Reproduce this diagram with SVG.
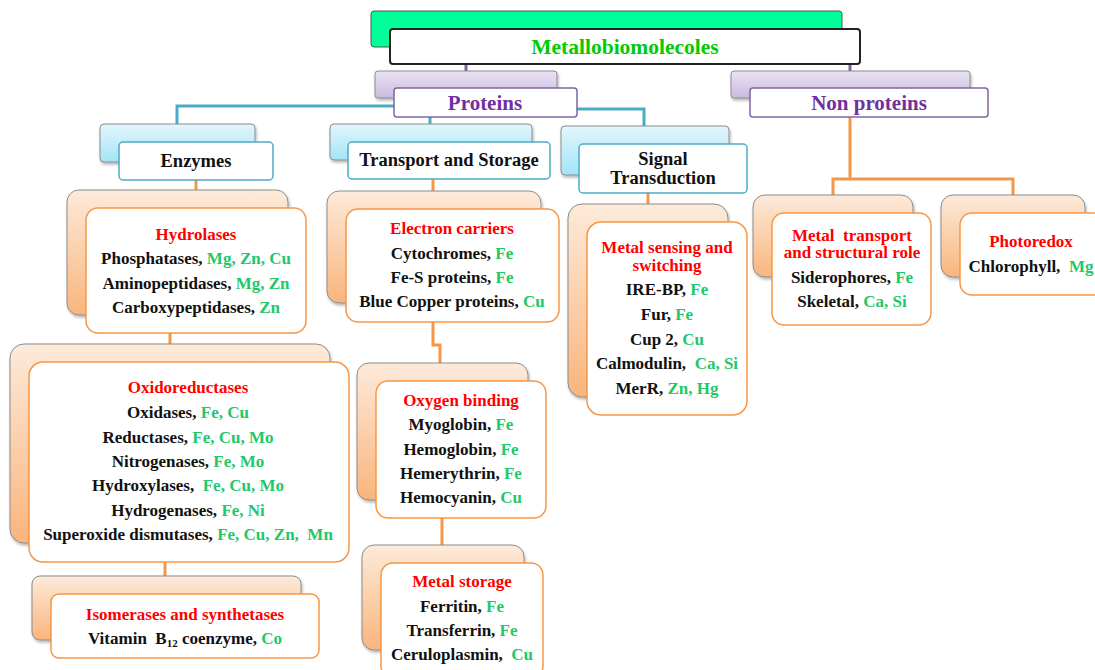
<svg xmlns="http://www.w3.org/2000/svg" width="1095" height="670" viewBox="0 0 1095 670" xml:space="preserve">
<defs>
<linearGradient id="gOr" x1="0" y1="0" x2="0" y2="1"><stop offset="0" stop-color="#fdeada"/><stop offset="1" stop-color="#f9b57c"/></linearGradient>
<linearGradient id="gBl" x1="0" y1="0" x2="0" y2="1"><stop offset="0" stop-color="#e2f6fd"/><stop offset="1" stop-color="#a3e4f7"/></linearGradient>
<linearGradient id="gPu" x1="0" y1="0" x2="0" y2="1"><stop offset="0" stop-color="#ebe4f3"/><stop offset="1" stop-color="#c9b9e0"/></linearGradient>
<filter id="sh" x="-10%" y="-10%" width="130%" height="130%"><feDropShadow dx="1" dy="2" stdDeviation="1.5" flood-color="#000" flood-opacity="0.3"/></filter>
</defs>
<style>
text{font-family:"Liberation Serif","Times New Roman",serif;font-weight:bold;text-anchor:middle;white-space:pre;}
.t{font-size:17px;fill:#111;}
.h{font-size:17px;fill:#ff0000;}
.m{fill:#1fc86a;}
.ob{fill:url(#gOr);stroke:#8c8c8c;stroke-width:1;filter:url(#sh);}
.of{fill:#fff;stroke:#f79646;stroke-width:1.5;}
.bb{fill:url(#gBl);stroke:#8c8c8c;stroke-width:1;filter:url(#sh);}
.bf{fill:#fff;stroke:#4bacc6;stroke-width:1.5;}
.pb{fill:url(#gPu);stroke:#8c8c8c;stroke-width:1;filter:url(#sh);}
.pf{fill:#fff;stroke:#8064a2;stroke-width:1.5;}
.cb{fill:none;stroke:#4bacc6;stroke-width:3;}
.co{fill:none;stroke:#f79646;stroke-width:3;}
.cp{fill:none;stroke:#8064a2;stroke-width:3;}
.l1{font-size:18.5px;fill:#111;}
.p{font-size:21px;fill:#7030a0;}
</style>
<g id="connectors">
<path class="cp" d="M466 64 V72"/>
<path class="cp" d="M850 64 V72"/>
<path class="cb" d="M394 106 H177 V124"/>
<path class="cb" d="M430 117 V124"/>
<path class="cb" d="M577 109 H644 V126"/>
<path class="co" d="M850 117 V179 M833 195 V179 H1013 V195"/>
<path class="co" d="M196 180 V190"/>
<path class="co" d="M170 333 V344"/>
<path class="co" d="M165 562 V576"/>
<path class="co" d="M433 179 V191"/>
<path class="co" d="M433 322 V345 H440 V363"/>
<path class="co" d="M442 518 V545"/>
<path class="co" d="M648 193 V204"/>
</g>
<g id="root">
<rect x="371" y="11" width="471" height="36" rx="3" fill="#00ff99" stroke="#555" stroke-width="1"/>
<rect x="390" y="29" width="470" height="35" rx="3" fill="#fff" stroke="#222" stroke-width="2"/>
<text x="625" y="54" style="font-size:21.5px;fill:#00cc00">Metallobiomolecoles</text>
</g>
<g id="proteins">
<rect class="pb" x="375" y="71" width="182" height="27" rx="3"/>
<rect class="pf" x="394" y="88" width="183" height="29" rx="3"/>
<text class="p" x="485" y="110">Proteins</text>
</g>
<g id="nonproteins">
<rect class="pb" x="731" y="71" width="239" height="27" rx="3"/>
<rect class="pf" x="750" y="88" width="238" height="29" rx="3"/>
<text class="p" x="869" y="110">Non proteins</text>
</g>
<g id="enzymes">
<rect class="bb" x="100" y="124" width="155" height="38" rx="4"/>
<rect class="bf" x="119" y="142" width="154" height="38" rx="4"/>
<text class="l1" x="196" y="167">Enzymes</text>
</g>
<g id="transport">
<rect class="bb" x="330" y="124" width="202" height="36" rx="4"/>
<rect class="bf" x="348" y="142" width="202" height="37" rx="4"/>
<text class="l1" x="449" y="166">Transport and Storage</text>
</g>
<g id="signal">
<rect class="bb" x="561" y="126" width="168" height="49" rx="4"/>
<rect class="bf" x="579" y="144" width="168" height="49" rx="4"/>
<text class="l1" x="663" y="165">Signal</text>
<text class="l1" x="663" y="184">Transduction</text>
</g>
<g id="hydrolases">
<rect class="ob" x="67" y="190" width="221" height="125" rx="12"/>
<rect class="of" x="86" y="208" width="220" height="125" rx="12"/>
<text class="h" x="196" y="240">Hydrolases</text>
<text class="t" x="196" y="264">Phosphatases, <tspan class="m">Mg, Zn, Cu</tspan></text>
<text class="t" x="196" y="289">Aminopeptidases, <tspan class="m">Mg, Zn</tspan></text>
<text class="t" x="196" y="313">Carboxypeptidases, <tspan class="m">Zn</tspan></text>
</g>
<g id="oxidoreductases">
<rect class="ob" x="10" y="344" width="320" height="199" rx="14"/>
<rect class="of" x="29" y="362" width="320" height="200" rx="14"/>
<text class="h" x="188" y="393">Oxidoreductases</text>
<text class="t" x="188" y="418">Oxidases, <tspan class="m">Fe, Cu</tspan></text>
<text class="t" x="188" y="443">Reductases, <tspan class="m">Fe, Cu, Mo</tspan></text>
<text class="t" x="188" y="467">Nitrogenases, <tspan class="m">Fe, Mo</tspan></text>
<text class="t" x="188" y="491">Hydroxylases, <tspan class="m"> Fe, Cu, Mo</tspan></text>
<text class="t" x="188" y="516">Hydrogenases, <tspan class="m">Fe, Ni</tspan></text>
<text class="t" x="188" y="540">Superoxide dismutases, <tspan class="m">Fe, Cu, Zn,  Mn</tspan></text>
</g>
<g id="isomerases">
<rect class="ob" x="32" y="576" width="269" height="64" rx="8"/>
<rect class="of" x="51" y="594" width="268" height="64" rx="8"/>
<text class="h" x="185" y="620">Isomerases and synthetases</text>
<text class="t" x="185" y="644">Vitamin  B<tspan style="font-size:11px" dy="3">12</tspan><tspan dy="-3"> coenzyme, </tspan><tspan class="m">Co</tspan></text>
</g>
<g id="electron">
<rect class="ob" x="327" y="191" width="214" height="112" rx="12"/>
<rect class="of" x="346" y="209" width="213" height="113" rx="12"/>
<text class="h" x="452" y="234">Electron carriers</text>
<text class="t" x="452" y="259">Cytochromes, <tspan class="m">Fe</tspan></text>
<text class="t" x="452" y="283">Fe-S proteins, <tspan class="m">Fe</tspan></text>
<text class="t" x="452" y="307">Blue Copper proteins, <tspan class="m">Cu</tspan></text>
</g>
<g id="oxygen">
<rect class="ob" x="357" y="363" width="171" height="137" rx="12"/>
<rect class="of" x="376" y="381" width="170" height="137" rx="12"/>
<text class="h" x="461" y="406">Oxygen binding</text>
<text class="t" x="461" y="430">Myoglobin, <tspan class="m">Fe</tspan></text>
<text class="t" x="461" y="455">Hemoglobin, <tspan class="m">Fe</tspan></text>
<text class="t" x="461" y="479">Hemerythrin, <tspan class="m">Fe</tspan></text>
<text class="t" x="461" y="503">Hemocyanin, <tspan class="m">Cu</tspan></text>
</g>
<g id="storage">
<rect class="ob" x="362" y="545" width="162" height="105" rx="12"/>
<rect class="of" x="381" y="563" width="162" height="115" rx="12"/>
<text class="h" x="462" y="587">Metal storage</text>
<text class="t" x="462" y="612">Ferritin, <tspan class="m">Fe</tspan></text>
<text class="t" x="462" y="636">Transferrin, <tspan class="m">Fe</tspan></text>
<text class="t" x="462" y="660">Ceruloplasmin, <tspan class="m"> Cu</tspan></text>
</g>
<g id="sensing">
<rect class="ob" x="568" y="204" width="160" height="193" rx="14"/>
<rect class="of" x="587" y="222" width="160" height="193" rx="14"/>
<text class="h" x="667" y="253">Metal sensing and</text>
<text class="h" x="667" y="271">switching</text>
<text class="t" x="667" y="295">IRE-BP, <tspan class="m">Fe</tspan></text>
<text class="t" x="667" y="320">Fur, <tspan class="m">Fe</tspan></text>
<text class="t" x="667" y="345">Cup 2, <tspan class="m">Cu</tspan></text>
<text class="t" x="667" y="369">Calmodulin, <tspan class="m"> Ca, Si</tspan></text>
<text class="t" x="667" y="394">MerR, <tspan class="m">Zn, Hg</tspan></text>
</g>
<g id="metaltransport">
<rect class="ob" x="753" y="195" width="160" height="82" rx="12"/>
<rect class="of" x="772" y="213" width="159" height="112" rx="12"/>
<text class="h" x="852" y="241">Metal  transport</text>
<text class="h" x="852" y="258">and structural role</text>
<text class="t" x="852" y="283">Siderophores, <tspan class="m">Fe</tspan></text>
<text class="t" x="852" y="307">Skeletal, <tspan class="m">Ca, Si</tspan></text>
</g>
<g id="photoredox">
<rect class="ob" x="941" y="195" width="144" height="82" rx="12"/>
<rect class="of" x="960" y="213" width="150" height="82" rx="12"/>
<text class="h" x="1031" y="247">Photoredox</text>
<text class="t" x="1031" y="272">Chlorophyll,  <tspan class="m">Mg</tspan></text>
</g>
</svg>
